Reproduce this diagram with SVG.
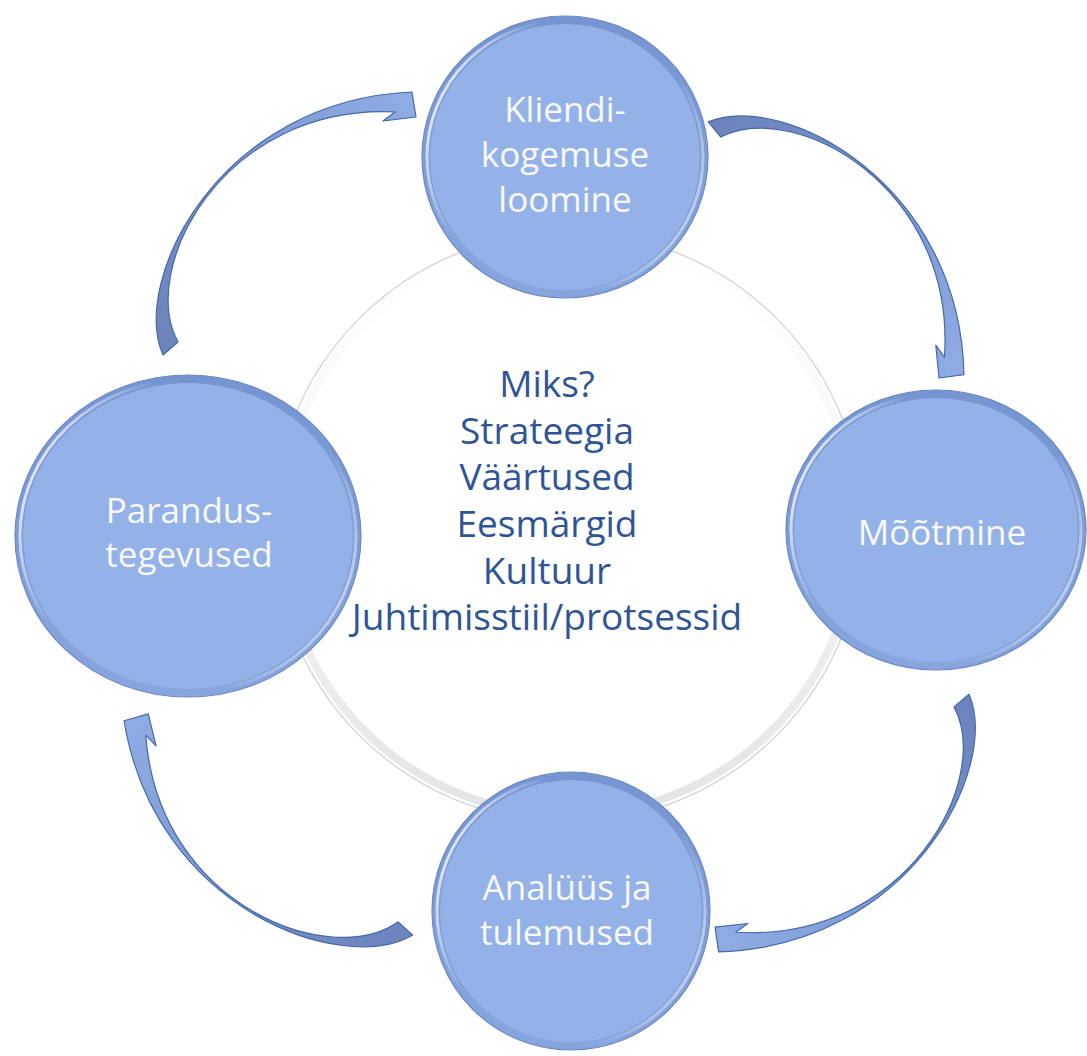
<svg xmlns="http://www.w3.org/2000/svg" width="1087" height="1056" viewBox="0 0 1087 1056">
  <defs>
    <style>
      .label { font-family: "Open Sans", "Noto Sans", "DejaVu Sans", sans-serif; text-anchor: middle; }
      .node-label { fill: #f7f9fd; font-size: 35px; }
      .core-label { fill: #2f5597; font-size: 37px; }
      .rim { fill: url(#rimShade); stroke: #6a89c6; stroke-width: 1.2; }
      .bevel { fill: none; stroke: url(#bevelLight); stroke-width: 3; }
      .face { fill: #94b2e7; }
      .arrow { fill: url(#arrowShade); stroke: #4468aa; stroke-width: 1.2; stroke-linejoin: round; }
    </style>

    <!-- node rim: slightly darker ring around the face -->
    <linearGradient id="rimShade" x1="0" y1="0" x2="0" y2="1">
      <stop offset="0" stop-color="#7594d1"/>
      <stop offset="1" stop-color="#88a6dd"/>
    </linearGradient>
    <!-- bevel highlight: bright on the left, softer on the lower right -->
    <linearGradient id="bevelLight" x1="0" y1="0.3" x2="1" y2="0.7">
      <stop offset="0" stop-color="#ffffff" stop-opacity="0.85"/>
      <stop offset="0.25" stop-color="#ffffff" stop-opacity="0"/>
      <stop offset="0.75" stop-color="#ffffff" stop-opacity="0"/>
      <stop offset="1" stop-color="#ffffff" stop-opacity="0.55"/>
    </linearGradient>
    <!-- centre disc: pale grey band that shows along the lower half -->
    <linearGradient id="coreBand" x1="0" y1="0" x2="0" y2="1">
      <stop offset="0" stop-color="#ffffff"/>
      <stop offset="0.45" stop-color="#f6f6f6"/>
      <stop offset="1" stop-color="#e4e4e4"/>
    </linearGradient>
    <!-- arrow shading from tail (dark) to head (light), in the template's own space -->
    <linearGradient id="arrowShade" gradientUnits="userSpaceOnUse" x1="170" y1="348" x2="415" y2="110">
      <stop offset="0" stop-color="#6c84bb"/>
      <stop offset="0.5" stop-color="#7a96cf"/>
      <stop offset="1" stop-color="#8eabe3"/>
    </linearGradient>

    <!-- curved block arrow: thick tail, thin middle, pointed head -->
    <path id="curved-arrow" class="arrow"
          d="M163,355 C130,280 220,100 412,92 L416,117 L383,121 L395,112 C222,104 138,270 178,342 Z"/>
  </defs>

  <rect width="1087" height="1056" fill="#ffffff"/>

  <!-- centre disc -->
  <g id="core">
    <circle cx="568" cy="527" r="295" fill="#ffffff" stroke="#d2d2d2" stroke-width="1.3"/>
    <circle cx="568" cy="527" r="288" fill="none" stroke="url(#coreBand)" stroke-width="8"/>
    <text class="label core-label" x="547" y="397">Miks?</text>
    <text class="label core-label" x="547" y="444">Strateegia</text>
    <text class="label core-label" x="547" y="490">Väärtused</text>
    <text class="label core-label" x="547" y="537">Eesmärgid</text>
    <text class="label core-label" x="547" y="584">Kultuur</text>
    <text class="label core-label" x="547" y="630">Juhtimisstiil/protsessid</text>
  </g>

  <!-- connectors -->
  <g id="connectors">
    <use href="#curved-arrow"/>
    <use href="#curved-arrow" transform="matrix(-0.0211 0.9924 -0.9924 -0.0211 1063.95 -32.37)"/>
    <use href="#curved-arrow" transform="matrix(-0.9921 -0.01276 0.01276 -0.9921 1126.22 1048.42)"/>
    <use href="#curved-arrow" transform="matrix(-0.11827 -0.98564 0.98564 -0.11827 82.1 1137.72)"/>
  </g>

  <g id="node-kliendikogemus">
    <ellipse class="rim" cx="565" cy="157" rx="143" ry="141"/>
    <ellipse class="bevel" cx="565" cy="157" rx="138" ry="136"/>
    <ellipse class="face" cx="565" cy="157" rx="135" ry="133"/>
    <text class="label node-label" x="565" y="122">Kliendi-</text>
    <text class="label node-label" x="565" y="167">kogemuse</text>
    <text class="label node-label" x="565" y="212">loomine</text>
  </g>

  <g id="node-mootmine">
    <ellipse class="rim" cx="936" cy="530" rx="150" ry="140"/>
    <ellipse class="bevel" cx="936" cy="530" rx="145" ry="135"/>
    <ellipse class="face" cx="936" cy="530" rx="142" ry="132"/>
    <text class="label node-label" x="942" y="545">Mõõtmine</text>
  </g>

  <g id="node-analuus">
    <ellipse class="rim" cx="571" cy="911" rx="139" ry="139"/>
    <ellipse class="bevel" cx="571" cy="911" rx="134" ry="134"/>
    <ellipse class="face" cx="571" cy="911" rx="131" ry="131"/>
    <text class="label node-label" x="567" y="900">Analüüs ja</text>
    <text class="label node-label" x="567" y="945">tulemused</text>
  </g>

  <g id="node-parandus">
    <ellipse class="rim" cx="188" cy="536" rx="173" ry="161"/>
    <ellipse class="bevel" cx="188" cy="536" rx="168" ry="156"/>
    <ellipse class="face" cx="188" cy="536" rx="165" ry="153"/>
    <text class="label node-label" x="189" y="523">Parandus-</text>
    <text class="label node-label" x="189" y="567">tegevused</text>
  </g>
</svg>
